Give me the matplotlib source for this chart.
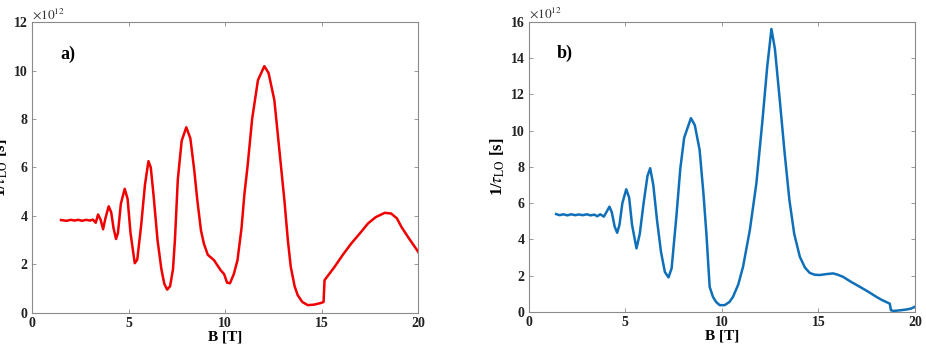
import matplotlib as mpl
import matplotlib.pyplot as plt
import numpy as np

mpl.rcParams['font.family'] = ['Liberation Serif', 'DejaVu Serif']
mpl.rcParams['mathtext.fontset'] = 'stix'

# panel a)
b_a = [1.50, 1.8, 2.0, 2.2, 2.4, 2.6, 2.8, 3.0, 3.15, 3.3, 3.42, 3.55, 3.68, 3.8,
       3.97, 4.1, 4.22, 4.35, 4.45, 4.6, 4.8, 4.95, 5.1, 5.32, 5.45, 5.65, 5.85,
       6.03, 6.15, 6.3, 6.5, 6.7, 6.85, 7.0, 7.15, 7.3, 7.4, 7.55, 7.75, 7.99,
       8.2, 8.4, 8.56, 8.75, 8.9, 9.1, 9.43, 9.77, 9.95, 10.1, 10.25, 10.45,
       10.64, 10.85, 11.0, 11.16, 11.4, 11.7, 12.03, 12.25, 12.55, 12.8, 13.07,
       13.25, 13.4, 13.6, 13.76, 14.0, 14.28, 14.6, 14.97, 15.1, 15.15, 15.67,
       16.1, 16.53, 17.0, 17.4, 17.8, 18.27, 18.6, 18.9, 19.13, 19.5, 20.0]
rate_a = [3.83, 3.80, 3.84, 3.81, 3.84, 3.80, 3.84, 3.81, 3.85, 3.72, 4.06, 3.85,
          3.45, 3.9, 4.40, 4.15, 3.5, 3.05, 3.3, 4.5, 5.12, 4.7, 3.3, 2.05, 2.2,
          3.6, 5.3, 6.26, 6.0, 4.8, 3.0, 1.8, 1.2, 0.96, 1.1, 1.8, 3.0, 5.5, 7.1,
          7.66, 7.2, 5.9, 4.65, 3.4, 2.86, 2.4, 2.17, 1.76, 1.6, 1.25, 1.22, 1.6,
          2.17, 3.5, 4.9, 6.03, 8.0, 9.6, 10.18, 9.9, 8.78, 6.8, 4.65, 3.0, 1.9,
          1.1, 0.73, 0.45, 0.32, 0.34, 0.41, 0.45, 1.35, 1.9, 2.4, 2.86, 3.3,
          3.69, 3.95, 4.13, 4.1, 3.9, 3.55, 3.1, 2.52]

# panel b)
b_b = [1.42, 1.6, 1.8, 2.0, 2.2, 2.4, 2.6, 2.8, 3.0, 3.2, 3.4, 3.55, 3.7, 3.89,
       4.05, 4.18, 4.3, 4.45, 4.58, 4.7, 4.85, 5.05, 5.2, 5.35, 5.58, 5.75, 5.95,
       6.15, 6.29, 6.45, 6.65, 6.85, 7.05, 7.24, 7.4, 7.65, 7.85, 8.05, 8.4, 8.6,
       8.85, 9.05, 9.2, 9.37, 9.54, 9.7, 9.89, 10.15, 10.4, 10.58, 10.85, 11.1,
       11.45, 11.79, 12.1, 12.35, 12.57, 12.75, 13.0, 13.25, 13.5, 13.75, 14.04,
       14.3, 14.55, 14.8, 15.07, 15.4, 15.76, 16.0, 16.28, 16.7, 17.15, 17.6,
       18.0, 18.3, 18.6, 18.7, 18.76, 18.88, 19.2, 19.57, 19.8, 20.0]
rate_b = [5.39, 5.33, 5.38, 5.32, 5.38, 5.33, 5.37, 5.33, 5.38, 5.32, 5.36, 5.27,
          5.38, 5.25, 5.55, 5.80, 5.5, 4.7, 4.36, 4.8, 6.0, 6.76, 6.3, 4.8, 3.5,
          4.3, 6.0, 7.5, 7.92, 7.0, 5.0, 3.3, 2.2, 1.9, 2.4, 5.3, 7.9, 9.6, 10.68,
          10.3, 8.93, 6.5, 4.33, 1.38, 0.83, 0.55, 0.37, 0.37, 0.55, 0.83, 1.5,
          2.49, 4.5, 7.09, 10.5, 13.5, 15.6, 14.5, 11.7, 8.8, 6.17, 4.3, 3.04,
          2.45, 2.15, 2.05, 2.03, 2.08, 2.12, 2.05, 1.93, 1.65, 1.38, 1.1, 0.83,
          0.65, 0.5, 0.45, 0.09, 0.05, 0.08, 0.13, 0.18, 0.28]

x_ticks = [0, 5, 10, 15, 20]

fig = plt.figure(figsize=(9.26, 3.5), dpi=100)
ax_a = fig.add_axes([0.0346, 0.106, 0.417, 0.831])
ax_b = fig.add_axes([0.571, 0.109, 0.417, 0.829])

panels = [(ax_a, b_a, rate_a, '#f00000', 12, 'a)'),
          (ax_b, b_b, rate_b, '#0f6fb8', 16, 'b)')]

for ax, b, rate, col, ymax, tag in panels:
    ax.plot(b, rate, color=col, linewidth=1.8)
    ax.set_xlim(0, 20)
    ax.set_ylim(0, ymax)
    ax.set_xticks(x_ticks)
    ax.set_yticks(np.arange(0, ymax + 1, 2))
    ax.tick_params(direction='in', top=True, right=True, length=3,
                   width=0.6, color='#888888', labelsize=10, pad=3,
                   labelcolor='#222222')
    for lab in ax.get_xticklabels() + ax.get_yticklabels():
        lab.set_fontweight('bold')
    for s in ax.spines.values():
        s.set_color('#8a8a8a')
        s.set_linewidth(0.8)
    ax.set_xlabel('B [T]', fontsize=11, fontweight='bold', labelpad=0)
    ax.set_ylabel(r'1/$\tau_{\rm LO}$ [s]', fontsize=12, fontweight='bold',
                  labelpad=3)
    ax.text(0.0, 1.002, r'$\times10^{12}$', transform=ax.transAxes,
            fontsize=9.5, color='#333333', va='bottom', ha='left')
    ax.text(0.073, 0.89, tag, transform=ax.transAxes, fontsize=13,
            fontweight='bold', va='center', ha='left')

plt.savefig('out.png', dpi=100)
plt.close('all')
